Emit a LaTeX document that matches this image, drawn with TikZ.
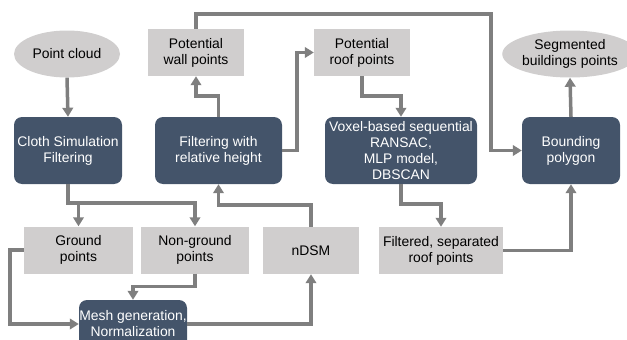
\documentclass[tikz,border=0pt]{standalone}
\usepackage{fontspec}
\setmainfont{Liberation Sans}
\usetikzlibrary{arrows.meta,shapes.geometric}

\definecolor{boxdark}{HTML}{44546A}
\definecolor{boxlight}{HTML}{D0CECE}
\definecolor{linegray}{HTML}{7F7F7F}

\tikzset{
  proc/.style={draw=none, fill=boxdark, rounded corners=8pt, text=white,
    align=center, inner sep=0pt},
  datab/.style={fill=boxlight, text=black, align=center, inner sep=0pt,
    minimum width=96pt, minimum height=47pt},
  term/.style={ellipse, fill=boxlight, text=black, align=center, inner sep=0pt},
  flow/.style={draw=linegray, line width=3.5pt, line join=miter,
    -{Triangle[width=10.5pt,length=9pt]}},
}

\begin{document}
\begin{tikzpicture}[x=1pt, y=-1pt, font=\fontsize{13.9}{16}\selectfont]
\useasboundingbox (0,0) rectangle (627,340);
\clip (0,0) rectangle (627,340);
% first row:
\node[term, minimum width=106pt, minimum height=47pt] (pc) at (67,54) {Point cloud};
\node[datab] (wall) at (196,52.5) {Potential\\wall points};
\node[datab] (roof) at (362,52.5) {Potential\\roof points};
\node[term, minimum width=116pt, minimum height=47pt] (seg) at (570,54) {Segmented\\buildings points};
% processing steps:
\node[proc, minimum width=108pt, minimum height=67pt] (csf) at (68,150.5) {Cloth Simulation\\Filtering};
\node[proc, minimum width=127pt, minimum height=67pt] (filt) at (218.5,150.5) {Filtering with\\relative height};
\node[proc, minimum width=152pt, minimum height=67pt] (voxel) at (401,150.5) {Voxel-based sequential\\RANSAC,\\MLP model,\\DBSCAN};
\node[proc, minimum width=98pt, minimum height=67pt] (bound) at (571,150.5) {Bounding\\polygon};
% lower row:
\node[datab, minimum width=109pt] (ground) at (78.5,250) {Ground\\points};
\node[datab, minimum width=108pt] (nonground) at (195,250) {Non-ground\\points};
\node[datab] (ndsm) at (311,250.5) {nDSM};
\node[datab, minimum width=124pt] (filtered) at (441,250.5) {Filtered, separated\\roof points};
\node[proc, minimum width=108pt, minimum height=48pt] (mesh) at (133,324) {Mesh generation,\\Normalization};
% connectors:
\draw[flow] (pc.south) -- (csf.north);
\draw[flow] (csf.south) -- ++(0,19) -| (ground.north);
\draw[flow] (csf.south) -- ++(0,19) -| (nonground.north);
\draw[flow] (ground.west) -- ++(-14,0) |- (mesh.west);
\draw[flow] (nonground.south) -- ++(0,13) -| (mesh.north);
\draw[flow] (mesh.east) -| (ndsm.south);
\draw[flow] (ndsm.north) -- ++(0,-22) -| (filt.south);
\draw[flow] (filt.north) -- ++(0,-21) -| (wall.south);
\draw[flow] (filt.east) -- ++(15,0) |- (roof.west);
\draw[flow] (wall.north) -- ++(0,-15) -| ([xshift=-31pt]bound.west) -- (bound.west);
\draw[flow] (roof.south) -- ++(0,20) -| (voxel.north);
\draw[flow] (voxel.south) -- ++(0,20) -| (filtered.north);
\draw[flow] (filtered.east) -| (bound.south);
\draw[flow] (bound.north) -- (seg.south);
\end{tikzpicture}
\end{document}
